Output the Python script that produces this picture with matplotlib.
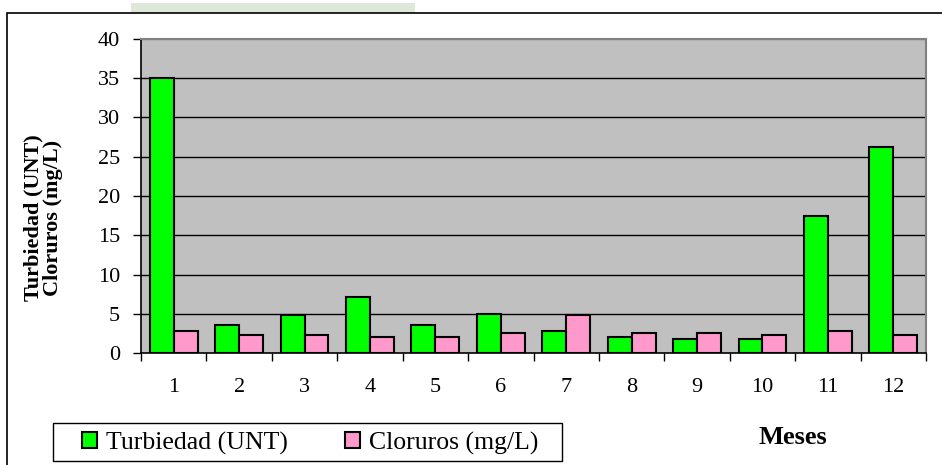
import matplotlib

matplotlib.use("Agg")
import matplotlib.pyplot as plt
import numpy as np
from matplotlib.patches import Rectangle

plt.rcParams["font.family"] = ["Liberation Serif", "DejaVu Serif"]

# valores
meses = [1, 2, 3, 4, 5, 6, 7, 8, 9, 10, 11, 12]
turbiedad = [35.0, 3.6, 4.8, 7.1, 3.6, 5.0, 2.8, 2.0, 1.8, 1.8, 17.5, 26.3]
cloruros = [2.8, 2.3, 2.3, 2.0, 2.0, 2.6, 4.8, 2.6, 2.6, 2.3, 2.8, 2.3]
series_labels = ["Turbiedad (UNT)", "Cloruros (mg/L)"]
y_ticks = [0, 5, 10, 15, 20, 25, 30, 35, 40]

W, H = 942, 465
fig = plt.figure(figsize=(W / 100, H / 100), dpi=100)

# franja verde clara arriba y marco exterior
fig.patches.append(
    Rectangle((131 / W, 1 - 13 / H), (415 - 131) / W, 10 / H,
              transform=fig.transFigure, facecolor="#dde8da", edgecolor="none")
)
fig.patches.append(
    Rectangle((7 / W, -0.05), 1.0, 1 - 13 / H + 0.05,
              transform=fig.transFigure, facecolor="none", edgecolor="black", linewidth=1.2)
)
# caja de la leyenda
fig.patches.append(
    Rectangle((53 / W, 1 - 461 / H), (562 - 53) / W, 38 / H,
              transform=fig.transFigure, facecolor="white", edgecolor="black", linewidth=1.0)
)

ax = fig.add_axes([141 / W, (H - 353) / H, (926 - 141) / W, (353 - 39) / H])
ax.set_facecolor("#c0c0c0")

x = np.arange(len(meses))
width = 0.365
ax.bar(x - width / 2, turbiedad, width, color="#00ff00", edgecolor="black",
       linewidth=1.5, label=series_labels[0], zorder=3)
ax.bar(x + width / 2, cloruros, width, color="#ff99cc", edgecolor="black",
       linewidth=1.5, label=series_labels[1], zorder=3)

ax.set_xlim(-0.5, len(meses) - 0.5)
ax.set_ylim(0, 40)
ax.set_yticks(y_ticks)
ax.set_yticklabels([str(v) for v in y_ticks], fontsize=16)
for v in y_ticks[1:]:
    ax.axhline(v, color="#000000" if v < 40 else "#808080", linewidth=1.0, zorder=1)

# etiquetas en el centro, marcas entre categorías
ax.set_xticks(x)
ax.set_xticklabels([str(m) for m in meses], fontsize=16)
ax.tick_params(axis="x", length=0, pad=18)
ax.set_xticks(np.arange(-0.5, len(meses)), minor=True)
ax.tick_params(axis="x", which="minor", length=6, direction="out", width=1)
ax.tick_params(axis="y", length=6, direction="out", width=1, pad=9)

ax.spines["left"].set_linewidth(1.2)
ax.spines["bottom"].set_linewidth(1.2)
ax.spines["top"].set_color("#808080")
ax.spines["right"].set_color("#808080")
ax.spines["top"].set_linewidth(1.5)
ax.spines["right"].set_linewidth(1.5)

fig.text(43 / W, 1 - 218 / H, "Turbiedad (UNT)\nCloruros (mg/L)", rotation=90,
         ha="center", va="center", fontsize=16, fontweight="bold", linespacing=0.95)
fig.text(793 / W, 1 - 437 / H, "Meses", ha="center", va="center",
         fontsize=19, fontweight="bold")

leg = fig.legend(loc="center left", bbox_to_anchor=(82 / W, 1 - 443 / H), ncol=2,
                 fontsize=18.5, frameon=False,
                 handlelength=0.6, handleheight=0.6, handletextpad=0.35,
                 columnspacing=2.2, borderpad=0, borderaxespad=0)

fig.savefig("out.png", dpi=100)
